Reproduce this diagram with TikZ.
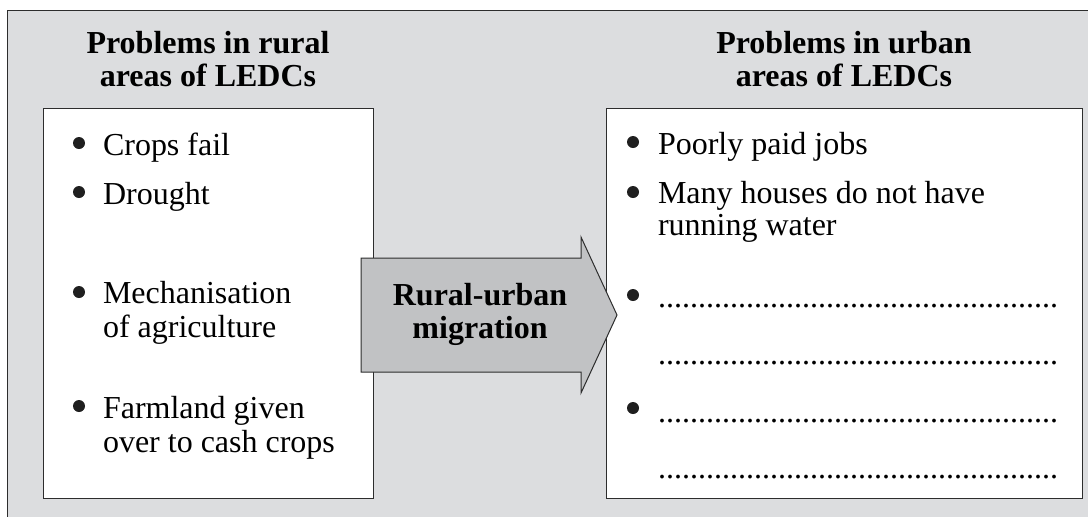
\documentclass[tikz,border=0pt]{standalone}
\usepackage{fontspec}
\setmainfont{Liberation Serif}
\definecolor{panelgray}{RGB}{220,221,223}
\definecolor{arrowgray}{RGB}{193,194,196}
\definecolor{edgegray}{RGB}{45,45,45}
\newcommand\dotrow{..................................................}

\begin{document}
\begin{tikzpicture}[x=0.5pt,y=0.5pt,
		every node/.style={inner sep=0pt,outer sep=0pt},
		heading/.style={font=\fontsize{16}{16.5}\selectfont\bfseries,align=center,anchor=base},
		item/.style={font=\fontsize{16}{17}\selectfont,align=left,anchor=base west},
		dot/.style={circle,fill=black!88,minimum size=6pt},
		panel/.style={draw=edgegray,line width=0.5pt}]
				\clip (0,0) rectangle (1088,-516);
				\draw [panel,fill=panelgray] (7,-10) rectangle (1100,-530);
				% the two lists
				\draw [panel,fill=white] (43,-108) rectangle (373,-498);
				\draw [panel,fill=white] (606,-108) rectangle (1082,-498);
				\node [heading] (rural) at (208,-86) {Problems in rural\\areas of LEDCs};
				\node [heading] (urban) at (844,-86) {Problems in urban\\areas of LEDCs};
				\node [item] (crops) at (103,-155) {Crops fail};
				\node [item] (drought) at (103,-204) {Drought};
				\node [item] (mech) at (103,-337) {Mechanisation\\of agriculture};
				\node [item] (farm) at (103,-452) {Farmland given\\over to cash crops};
				\node [dot] (d1) at (79,-143) {};
				\node [dot] (d2) at (79,-192) {};
				\node [dot] (d3) at (79,-292) {};
				\node [dot] (d4) at (79,-406) {};
				\node [item] (jobs) at (658,-154) {Poorly paid jobs};
				\node [item,font=\fontsize{16}{16}\selectfont] (water) at (658,-235) {Many houses do not have\\running water};
				\node [item] (gap1) at (658,-307) {\dotrow};
				\node [item] (gap1b) at (658,-364) {\dotrow};
				\node [item] (gap2) at (658,-422) {\dotrow};
				\node [item] (gap2b) at (658,-478) {\dotrow};
				\node [dot] (d5) at (633,-142) {};
				\node [dot] (d6) at (633,-192) {};
				\node [dot] (d7) at (633,-295) {};
				\node [dot] (d8) at (633,-408) {};
				% arrow between them
				\draw [panel,fill=arrowgray,line join=miter] (361,-258) -- (581,-258) -- (581,-237) -- (617,-315)
					-- (581,-393) -- (581,-372) -- (361,-372) -- cycle;
				\node [heading] (migr) at (480,-338) {Rural-urban\\migration};
			\end{tikzpicture}
\end{document}
